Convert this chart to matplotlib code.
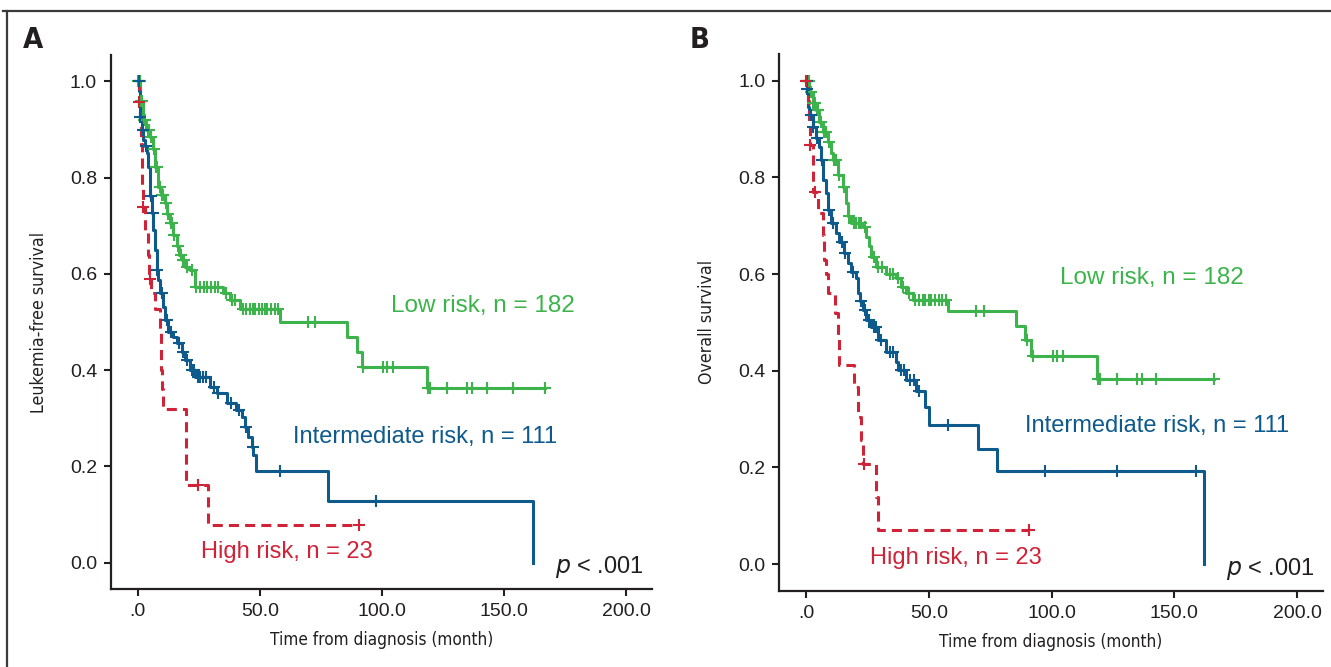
import numpy as np
import matplotlib
matplotlib.use("Agg")
import matplotlib.pyplot as plt
from matplotlib import font_manager
from matplotlib.lines import Line2D

# ---- data (months, survival) ----
# panel A: leukemia-free survival
a_low_t = [0, 1, 2.2, 3.5, 5, 6, 7, 8.3, 9.5, 11, 12, 13, 14.5, 15.9, 17, 17.9, 19.5,
           21.3, 23.4, 35, 37.7, 41.8, 58.2, 85.5, 89.6, 91.7, 118.3]
a_low_s = [1.0, 0.96, 0.92, 0.90, 0.885, 0.86, 0.823, 0.78, 0.765, 0.747, 0.725, 0.705,
           0.68, 0.657, 0.64, 0.629, 0.615, 0.608, 0.573, 0.56, 0.546, 0.528, 0.50, 0.469,
           0.438, 0.407, 0.362]
a_low_end = 166.8
a_low_cens = [0.2, 0.5, 0.8, 1.2, 1.6, 2.5, 3, 4, 4.5, 5.5, 6.5, 7.5, 8, 9, 10, 10.5, 11.5,
              12.5, 13.5, 14, 15, 16.5, 17.5, 18.5, 19, 20, 22, 24, 25.5, 27, 28.5, 30, 31.5,
              33, 36, 38.5, 40, 43, 44.5, 46, 47, 48, 49.5, 51, 52, 53, 54.5, 56, 57.5, 69.8,
              72.5, 92.3, 100.5, 101.9, 104.6, 119, 119.7, 126.5, 134.7, 136.8, 142.9, 153.8,
              166.8]

a_mid_t = [0, 0.4, 0.8, 1.5, 2.2, 3.0, 3.6, 4.2, 4.9, 5.6, 6.3, 7.0, 7.7, 8.3, 9.0, 10.4,
           11, 12.4, 14.5, 15.9, 17.9, 19.3, 21.3, 23.4, 29.5, 32.3, 36.4, 40.4, 42.5, 43.9,
           45.2, 46.6, 47.3, 48.4, 77.7, 162]
a_mid_s = [1.0, 0.98, 0.927, 0.90, 0.879, 0.865, 0.851, 0.823, 0.761, 0.727, 0.691, 0.65,
           0.608, 0.587, 0.56, 0.532, 0.504, 0.48, 0.469, 0.456, 0.438, 0.421, 0.40, 0.386,
           0.365, 0.352, 0.331, 0.317, 0.303, 0.282, 0.261, 0.24, 0.223, 0.19, 0.128, 0.0]
a_mid_end = 162
a_mid_cens = [0.3, 1.0, 2.0, 3.2, 5.2, 6.0, 8.0, 10.0, 12.0, 13.5, 17.0, 18.5, 20.0, 22.0,
              23.0, 24.5, 25.5, 26.5, 28.0, 31.0, 33.0, 38.0, 41.5, 44.5, 47.0, 58.2, 97.5]

a_high_t = [0, 0.3, 1.0, 1.3, 1.6, 1.8, 2.0, 3.0, 4.0, 4.6, 5.5, 7.0, 9.0, 9.3, 9.6, 9.9,
            10.2, 19.7, 28.8]
a_high_s = [1.0, 0.957, 0.913, 0.87, 0.826, 0.783, 0.739, 0.69, 0.64, 0.59, 0.56, 0.528,
            0.48, 0.44, 0.40, 0.36, 0.32, 0.161, 0.079]
a_high_end = 90.7
a_high_cens = [0.5, 2.2, 4.9, 24.5, 90.7]

# panel B: overall survival
b_low_t = [0, 1.3, 2.7, 4.1, 5.4, 6.8, 8.8, 10.2, 10.9, 12.9, 14.9, 16.3, 17.0, 18.4, 23.1,
           24.5, 25.8, 26.5, 28.6, 32.7, 36.7, 38.8, 40.8, 43.5, 57.8, 85.4, 89.1, 91.8, 118.4]
b_low_s = [1.0, 0.977, 0.953, 0.939, 0.915, 0.894, 0.874, 0.85, 0.836, 0.805, 0.781, 0.746,
           0.719, 0.705, 0.698, 0.677, 0.657, 0.636, 0.615, 0.601, 0.591, 0.574, 0.56, 0.547,
           0.524, 0.492, 0.463, 0.43, 0.382]
b_low_end = 166
b_low_cens = [0.2, 0.6, 1.0, 2.0, 3.0, 3.5, 4.5, 5.0, 6.0, 7.5, 8.2, 9.5, 11.5, 12.0, 13.5,
              15.5, 17.5, 19.5, 20.5, 21.5, 22.5, 24.0, 27.5, 29.5, 31.0, 34.0, 35.5, 37.5,
              39.5, 42.0, 44.5, 46, 47.5, 48.5, 50, 51, 52.5, 54, 55.5, 57, 69.4, 72.5, 89.8,
              92.5, 100.7, 102, 104.7, 119, 119.7, 126.5, 134.7, 136.7, 142.6, 166]

b_mid_t = [0, 0.3, 0.7, 1.3, 2.7, 4.1, 5.4, 6.1, 6.8, 8.2, 8.8, 10.2, 12.2, 13.6, 15.6, 17.0,
           18.4, 20.4, 21.1, 22, 23.1, 24.5, 26.5, 29.2, 32.7, 36.7, 37.4, 40.8, 44.9, 48.3,
           50.0, 70.0, 77.6, 162.2]
b_mid_s = [1.0, 0.982, 0.946, 0.929, 0.905, 0.881, 0.863, 0.836, 0.795, 0.767, 0.732, 0.705,
           0.684, 0.667, 0.643, 0.622, 0.605, 0.591, 0.56, 0.545, 0.526, 0.505, 0.491, 0.463,
           0.439, 0.419, 0.401, 0.381, 0.357, 0.325, 0.288, 0.239, 0.192, 0.0]
b_mid_end = 162.2
b_mid_cens = [0.2, 0.5, 2.0, 3.0, 4.5, 6.5, 9.5, 11, 14.5, 16, 19, 22.5, 24, 25.5, 27.5,
              28.5, 30.5, 34, 35.5, 38.5, 40, 42.5, 44, 46, 57.8, 97.3, 126.5, 158.9]

b_high_t = [0, 0.8, 1.2, 1.6, 2.7, 3.0, 4.7, 6.8, 7.5, 8.2, 8.8, 11.6, 12.9, 13.6, 19.7,
            21.1, 22.5, 23.1, 28.6, 29.2]
b_high_s = [1.0, 0.957, 0.913, 0.867, 0.815, 0.77, 0.726, 0.68, 0.63, 0.60, 0.56, 0.519,
            0.47, 0.412, 0.367, 0.305, 0.257, 0.208, 0.139, 0.07]
b_high_end = 90.9
b_high_cens = [0, 1.8, 3.5, 23.8, 90.9]

x_ticks = [0, 50, 100, 150, 200]
x_ticklabels = [".0", "50.0", "100.0", "150.0", "200.0"]
y_ticks = [0.0, 0.2, 0.4, 0.6, 0.8, 1.0]
labels = ["Low risk, n = 182", "Intermediate risk, n = 111", "High risk, n = 23"]

GREEN = "#3cb44b"
BLUE = "#0e5a8c"
RED = "#cf2338"
DARK = "#231f20"

# pick the narrowest condensed face that is installed, for the axis titles
rank = {"ultra-condensed": 0, "extra-condensed": 1, "condensed": 2, "semi-condensed": 3}


def stretch_rank(f):
    st = str(f.stretch).lower()
    if st in rank:
        return rank[st]
    if "ExtraCondensed" in f.fname:
        return 1
    return 2


cond = [f for f in font_manager.fontManager.ttflist
        if ("condensed" in str(f.stretch).lower() or "Narrow" in f.name
            or "Condensed" in f.name or "Condensed" in f.fname)]
cond_reg = sorted([f for f in cond if f.weight in (400, "normal", "regular")
                   and f.style == "normal"], key=stretch_rank)
cond_bold = sorted([f for f in cond if f.weight in (700, "bold") and f.style == "normal"],
                   key=stretch_rank)
if cond_reg:
    lab_font = font_manager.FontProperties(fname=cond_reg[0].fname, size=17)
else:
    lab_font = font_manager.FontProperties(family="DejaVu Sans", size=14)
if cond_bold:
    let_font = font_manager.FontProperties(fname=cond_bold[0].fname, size=21)
else:
    let_font = font_manager.FontProperties(family="DejaVu Sans", weight="bold", size=19)

names = {f.name for f in font_manager.fontManager.ttflist}
plain = "Liberation Sans" if "Liberation Sans" in names else "DejaVu Sans"
plt.rcParams["font.family"] = [plain, "DejaVu Sans"]


def km(ax, t, s, end, cens, color, dashed=False):
    t = list(t)
    s = list(s)
    if end > t[-1]:
        t.append(end)
        s.append(s[-1])
    ls = (0, (3.3, 2.0)) if dashed else "-"
    ax.step(t, s, where="post", color=color, lw=2.2, linestyle=ls, zorder=3)
    idx = np.searchsorted(t, cens, side="right") - 1
    cy = np.array(s)[idx]
    ax.plot(cens, cy, linestyle="none", marker="+", ms=8, mew=1.5, color=color, zorder=4)


def fit_width(txt, target_px, renderer, vertical=False):
    # shrink/grow the label so it spans about the same length as in the figure
    bb = txt.get_window_extent(renderer)
    cur = bb.height if vertical else bb.width
    txt.set_fontsize(txt.get_fontsize() * target_px / cur)


fig = plt.figure(figsize=(13.31, 6.67), dpi=100)
axA = fig.add_axes([0.0834, 0.1169, 0.4062, 0.8006])
axB = fig.add_axes([0.5853, 0.1144, 0.4087, 0.8046])

km(axA, a_low_t, a_low_s, a_low_end, a_low_cens, GREEN)
km(axA, a_mid_t, a_mid_s, a_mid_end, a_mid_cens, BLUE)
km(axA, a_high_t, a_high_s, a_high_end, a_high_cens, RED, dashed=True)

km(axB, b_low_t, b_low_s, b_low_end, b_low_cens, GREEN)
km(axB, b_mid_t, b_mid_s, b_mid_end, b_mid_cens, BLUE)
km(axB, b_high_t, b_high_s, b_high_end, b_high_cens, RED, dashed=True)

xl = []
yl = []
for ax, ylab in [(axA, "Leukemia-free survival"), (axB, "Overall survival")]:
    ax.set_xlim(-11, 210.5)
    ax.set_ylim(-0.055, 1.055)
    for side in ["top", "right"]:
        ax.spines[side].set_visible(False)
    for side in ["left", "bottom"]:
        ax.spines[side].set_linewidth(1.6)
        ax.spines[side].set_color(DARK)
    ax.set_xticks(x_ticks)
    ax.set_xticklabels(x_ticklabels)
    ax.set_yticks(y_ticks)
    ax.set_yticklabels([f"{v:.1f}" for v in y_ticks])
    ax.tick_params(direction="out", length=5, width=1.5, color=DARK, labelcolor=DARK,
                   labelsize=14, pad=5)
    xl.append(ax.set_xlabel("Time from diagnosis (month)", fontproperties=lab_font,
                            color=DARK, labelpad=8))
    yl.append(ax.set_ylabel(ylab, fontproperties=lab_font, color=DARK, labelpad=16))
    ax.text(189, -0.01, r"$p$ < .001", fontsize=17, color=DARK, ha="center", va="center")

axA.text(141.4, 0.533, labels[0], color=GREEN, fontsize=17.5, ha="center", va="center")
axA.text(117.6, 0.261, labels[1], color=BLUE, fontsize=17, ha="center", va="center")
axA.text(61, 0.023, labels[2], color=RED, fontsize=17, ha="center", va="center")

axB.text(141, 0.592, labels[0], color=GREEN, fontsize=17.5, ha="center", va="center")
axB.text(143, 0.285, labels[1], color=BLUE, fontsize=17, ha="center", va="center")
axB.text(61, 0.013, labels[2], color=RED, fontsize=17, ha="center", va="center")

rend = fig.canvas.get_renderer()
for t in xl:
    fit_width(t, 222, rend)
fit_width(yl[0], 180, rend, vertical=True)
yl[1].set_fontsize(yl[0].get_fontsize())

# panel letters and the outer frame
fig.text(0.017, 0.94, "A", fontproperties=let_font, color=DARK, va="center")
fig.text(0.518, 0.94, "B", fontproperties=let_font, color=DARK, va="center")
fig.add_artist(Line2D([0.0025, 1.0], [0.9835, 0.9835], color="#3a3a3a", lw=1.6))
fig.add_artist(Line2D([0.0053, 0.0053], [0.0, 0.9835], color="#3a3a3a", lw=1.6))

fig.savefig("out.png", dpi=100)
